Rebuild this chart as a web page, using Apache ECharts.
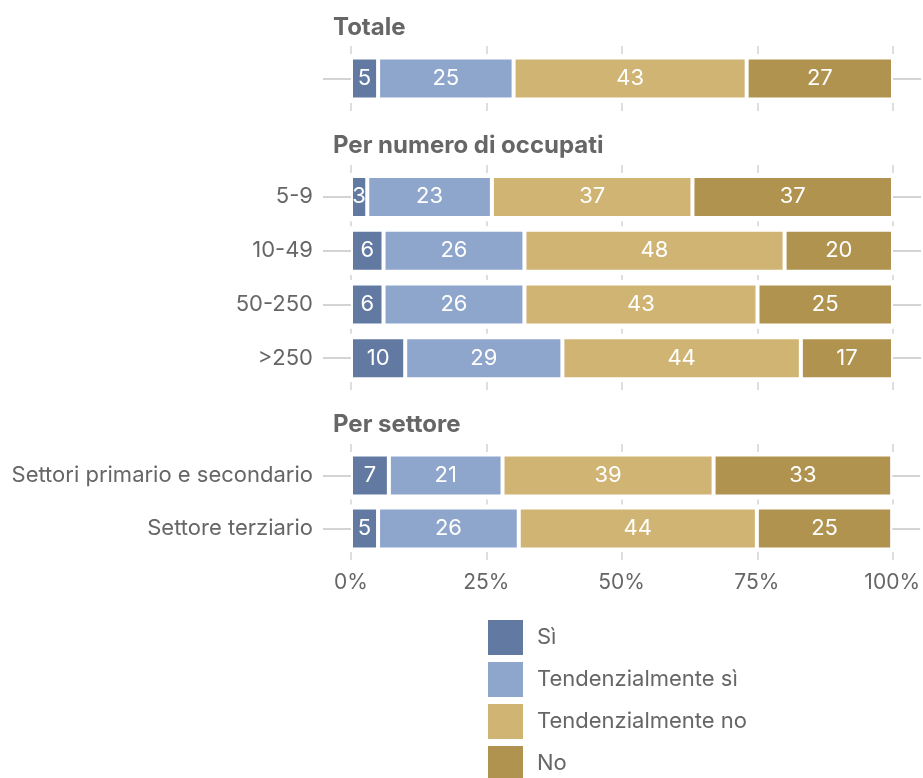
<!DOCTYPE html>
<html>
<head>
<meta charset="utf-8">
<script src="https://cdn.jsdelivr.net/npm/echarts@6/dist/echarts.min.js"></script>
<style>
  html, body { margin: 0; padding: 0; background: #ffffff; }
  #chart { width: 923px; height: 778px; }
</style>
</head>
<body>
<div id="chart"></div>
<script>
// Answer categories (legend order)
const answerNames = ['Sì', 'Tendenzialmente sì', 'Tendenzialmente no', 'No'];
const answerColors = ['#627aa2', '#8fa6cc', '#d0b474', '#b0934e'];

// Percentage axis
const axisMin = 0;
const axisMax = 100;
const axisStep = 25;

// Panel titles
const groupTitles = ['Totale', 'Per numero di occupati', 'Per settore'];

// Totale
const totaleCats = [''];
const totaleSi = [5];
const totaleTendSi = [25];
const totaleTendNo = [43];
const totaleNo = [27];

// Per numero di occupati
const occupatiCats = ['5-9', '10-49', '50-250', '>250'];
const occupatiSi = [3, 6, 6, 10];
const occupatiTendSi = [23, 26, 26, 29];
const occupatiTendNo = [37, 48, 43, 44];
const occupatiNo = [37, 20, 25, 17];

// Per settore
const settoreCats = ['Settori primario e secondario', 'Settore terziario'];
const settoreSi = [7, 5];
const settoreTendSi = [21, 26];
const settoreTendNo = [39, 44];
const settoreNo = [33, 25];

const groups = [
  { cats: totaleCats, values: [totaleSi, totaleTendSi, totaleTendNo, totaleNo] },
  { cats: occupatiCats, values: [occupatiSi, occupatiTendSi, occupatiTendNo, occupatiNo] },
  { cats: settoreCats, values: [settoreSi, settoreTendSi, settoreTendNo, settoreNo] }
];

// Panel layout (pixels)
const panelLeft = 351;
const panelRight = 30;
const panelFrames = [
  { top: 51, height: 55, titleTop: 14 },
  { top: 170, height: 215, titleTop: 132 },
  { top: 449, height: 106, titleTop: 411 }
];

const FONT = 'Inter';
const TEXT = '#666666';
const RULE = '#d4d4d4';

// Gridline dash: short strokes that only show in the gaps between bars
function gapDash(n, h) {
  const band = h / n;
  const arr = [8];
  let end = 8;
  for (let k = 1; k < n; k++) {
    const s = 5 + k * band - 2.5;
    arr.push(s - end, 5);
    end = s + 5;
  }
  const s = 5 + h - 3;
  arr.push(s - end, 8, 2000);
  return arr;
}

const grid = [];
const xAxis = [];
const yAxis = [];
const series = [];
const title = [];
const nG = groups.length;

groups.forEach((g, i) => {
  const f = panelFrames[i];
  grid.push({ left: panelLeft, right: panelRight, top: f.top, height: f.height, containLabel: false });
  title.push({
    text: groupTitles[i], left: 333, top: f.titleTop, padding: 0,
    textStyle: { fontFamily: FONT, fontSize: 24, fontWeight: 'bold', color: TEXT, lineHeight: 27 }
  });
  const isLast = i === nG - 1;
  xAxis.push({
    type: 'value', gridIndex: i, min: axisMin, max: axisMax, interval: axisStep,
    axisLine: { show: false }, axisTick: { show: false }, splitLine: { show: false },
    axisLabel: {
      show: isLast, formatter: '{value}%', margin: 17,
      fontFamily: FONT, fontSize: 21, color: TEXT
    }
  });
  yAxis.push({
    type: 'category', gridIndex: i, data: g.cats, inverse: true,
    axisLine: { show: false },
    axisTick: { show: true, alignWithLabel: true, length: 28, lineStyle: { color: RULE, width: 2 } },
    axisLabel: { margin: 38, fontFamily: FONT, fontSize: 22, color: TEXT }
  });
  yAxis.push({
    type: 'category', gridIndex: i, data: g.cats, inverse: true, position: 'right',
    axisLine: { show: false },
    axisTick: { show: true, alignWithLabel: true, length: 28, lineStyle: { color: RULE, width: 2 } },
    axisLabel: { show: false }
  });
  answerNames.forEach((name, s) => {
    series.push({
      name: name, type: 'bar', stack: 'g' + i,
      xAxisIndex: i, yAxisIndex: 2 * i,
      barWidth: 42,
      data: g.values[s],
      itemStyle: { color: answerColors[s], borderColor: '#ffffff', borderWidth: 2 },
      label: {
        show: true, position: 'inside', formatter: '{c}',
        color: '#ffffff', fontFamily: FONT, fontSize: 22
      },
      emphasis: { disabled: true }
    });
  });
});

// Gridline layers behind each panel
groups.forEach((g, i) => {
  const f = panelFrames[i];
  const gi = nG + i;
  grid.push({ left: panelLeft, right: panelRight, top: f.top - 5, height: f.height + 10 });
  xAxis.push({
    type: 'value', gridIndex: gi, min: axisMin, max: axisMax, interval: axisStep,
    axisLine: { show: false }, axisTick: { show: false }, axisLabel: { show: false },
    splitLine: { show: true, lineStyle: { color: RULE, width: 1.5, type: gapDash(g.cats.length, f.height) } }
  });
  yAxis.push({ type: 'value', gridIndex: gi, show: false, min: 0, max: 1 });
});

const chart = echarts.init(document.getElementById('chart'), null, { renderer: 'canvas' });
chart.setOption({
  animation: false,
  backgroundColor: '#ffffff',
  title: title,
  grid: grid,
  xAxis: xAxis,
  yAxis: yAxis,
  legend: {
    data: answerNames, orient: 'vertical', left: 488, top: 620, height: 200, padding: 0,
    itemWidth: 35, itemHeight: 35, itemGap: 7, icon: 'rect',
    itemStyle: { borderWidth: 0 },
    selectedMode: false,
    textStyle: { fontFamily: FONT, fontSize: 22, color: TEXT, padding: [0, 0, 0, 9] }
  },
  series: series
});
</script>
</body>
</html>
